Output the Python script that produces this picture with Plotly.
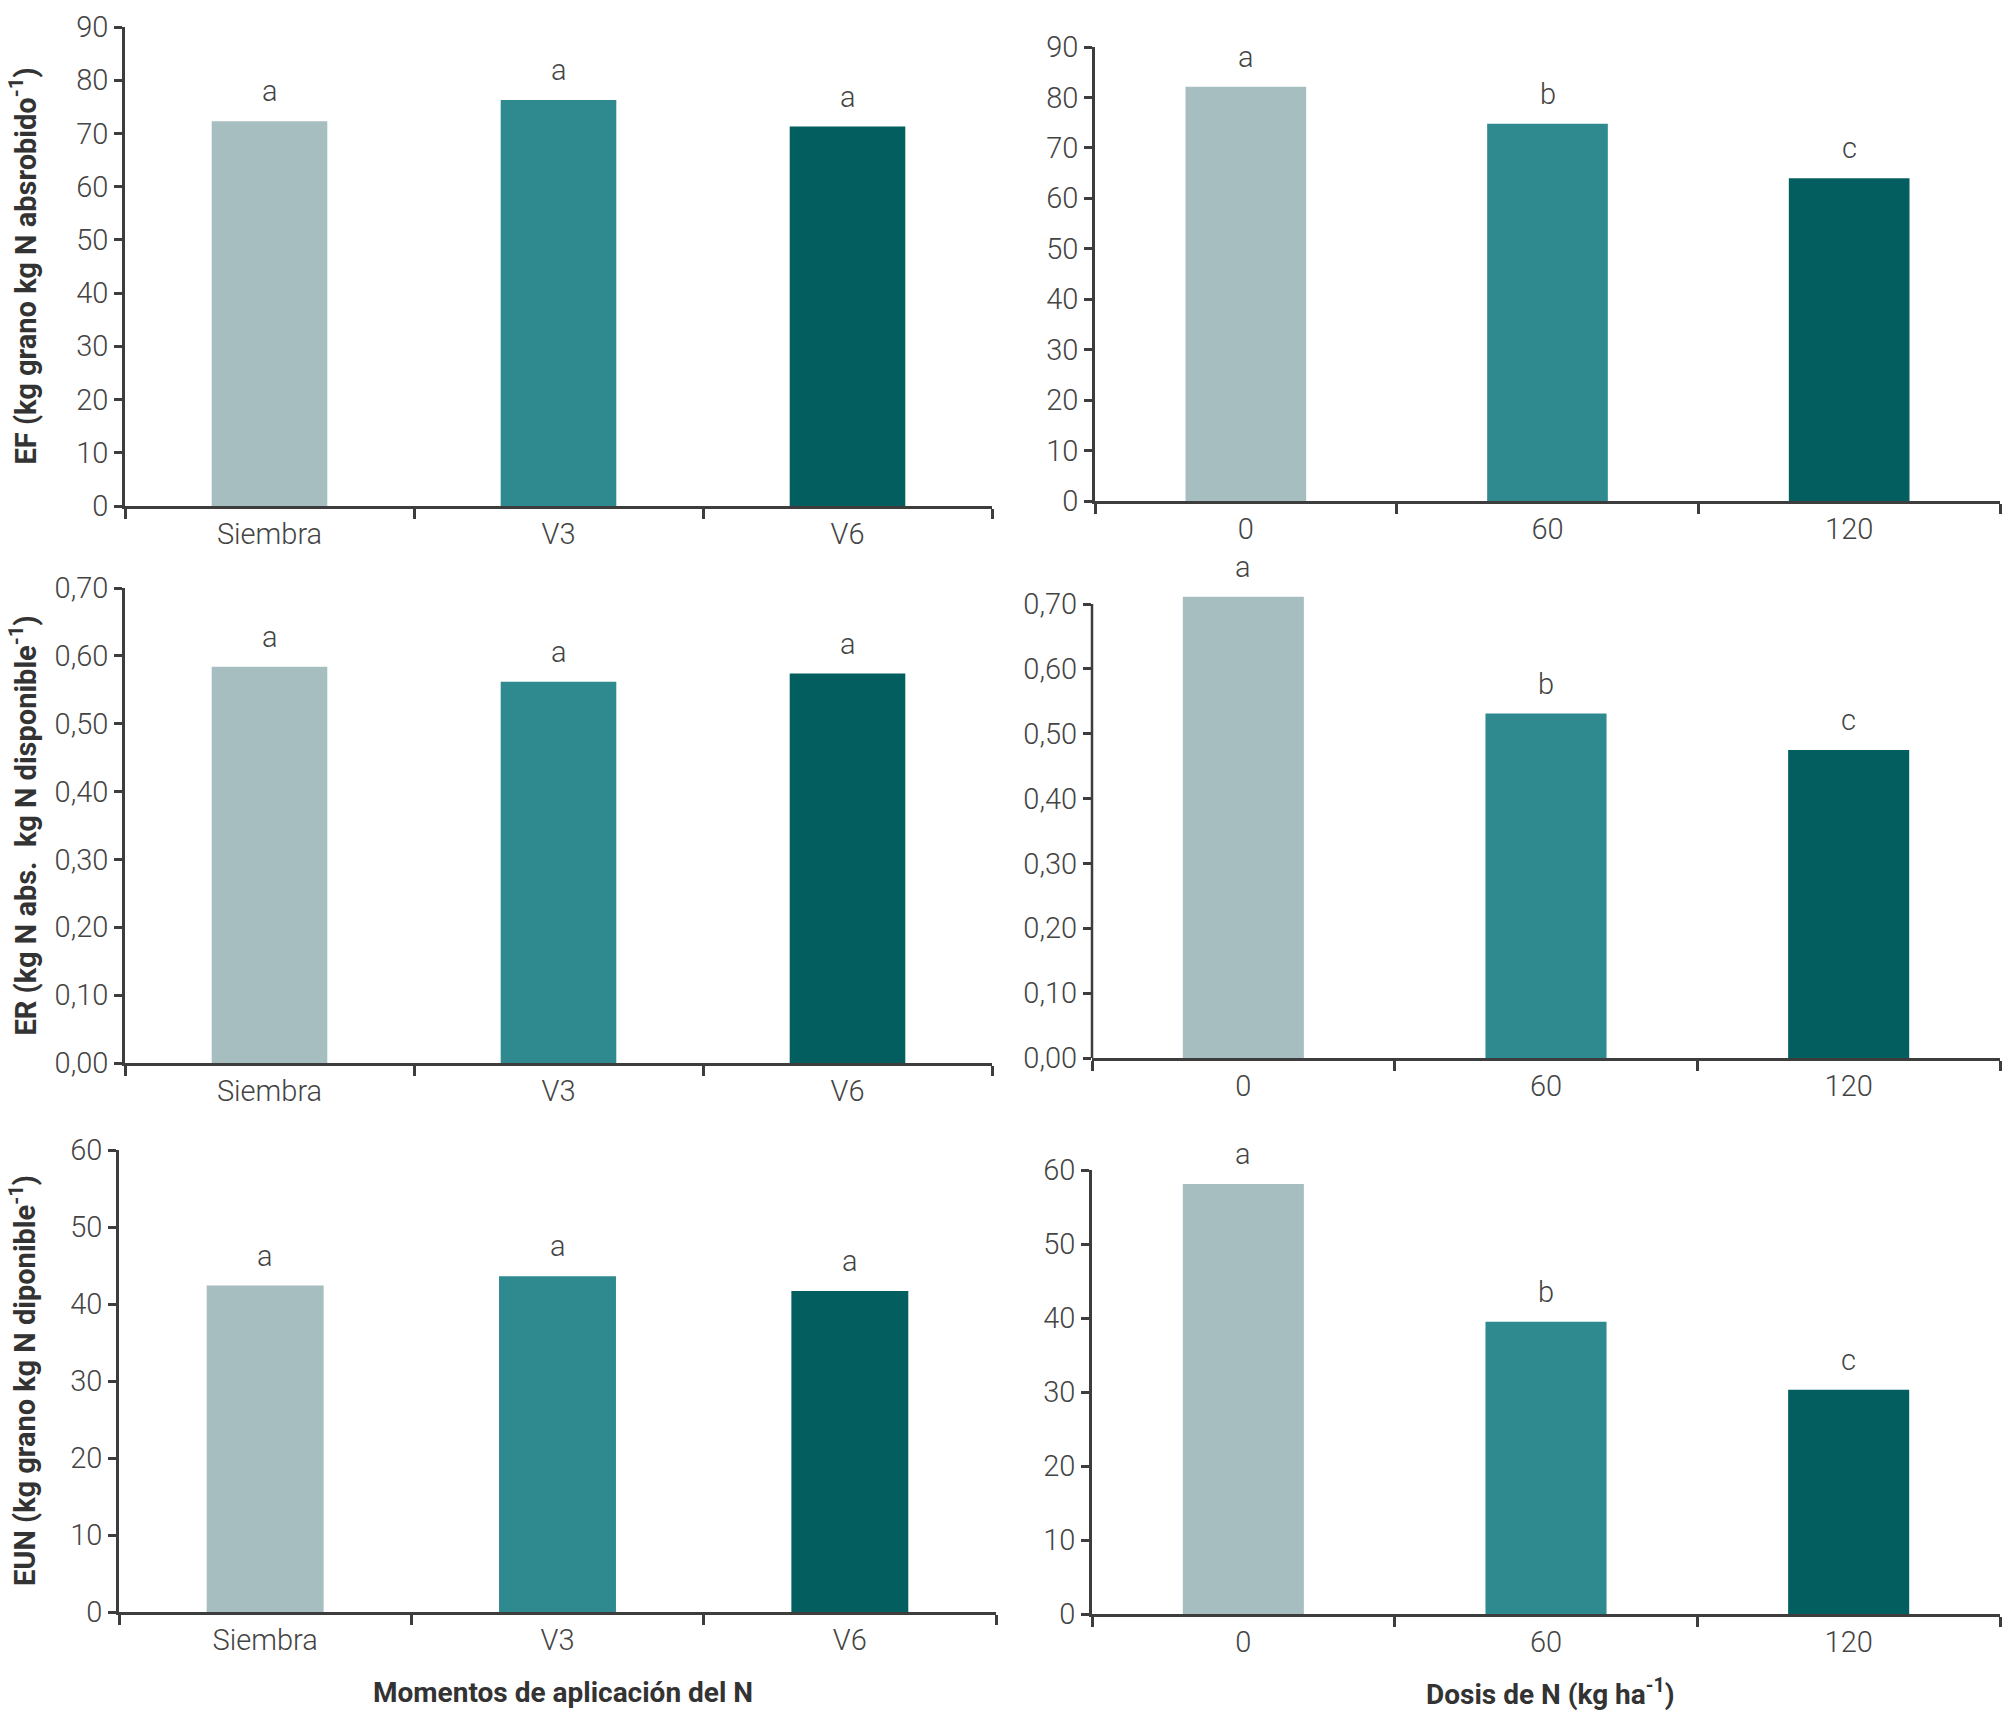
import plotly.graph_objects as go

# ---------------- data ----------------
momentos = ["Siembra", "V3", "V6"]
dosis = ["0", "60", "120"]

ef_momentos = [72.3, 76.3, 71.3]
ef_dosis = [82.1, 74.8, 64.0]
er_momentos = [0.584, 0.562, 0.574]
er_dosis = [0.711, 0.531, 0.475]
eun_momentos = [42.4, 43.6, 41.7]
eun_dosis = [58.1, 39.5, 30.3]

ef_momentos_letters = ["a", "a", "a"]
ef_dosis_letters = ["a", "b", "c"]
er_momentos_letters = ["a", "a", "a"]
er_dosis_letters = ["a", "b", "c"]
eun_momentos_letters = ["a", "a", "a"]
eun_dosis_letters = ["a", "b", "c"]

ef_ticks = [0, 10, 20, 30, 40, 50, 60, 70, 80, 90]
er_ticks = [0.0, 0.1, 0.2, 0.3, 0.4, 0.5, 0.6, 0.7]
eun_ticks = [0, 10, 20, 30, 40, 50, 60]

y_titles = [
    "EF (kg grano kg N absrobido<sup>-1</sup>)",
    "ER (kg N abs.  kg N disponible<sup>-1</sup>)",
    "EUN (kg grano kg N diponible<sup>-1</sup>)",
]
x_titles = ["Momentos de aplicación del N", "Dosis de N (kg ha<sup>-1</sup>)"]

bar_colors = ["#a6bebf", "#2e8a8f", "#035e60"]

# ---------------- layout geometry (pixels) ----------------
W, H = 2008, 1718
panels = [
    # (categories, values, letters, ticks, tickformat, x0, x1, ytop(last tick), ybot(0))
    (momentos, ef_momentos, ef_momentos_letters, ef_ticks, "d", 125, 992, 27, 506),
    (dosis, ef_dosis, ef_dosis_letters, ef_ticks, "d", 1095, 2000, 47, 501),
    (momentos, er_momentos, er_momentos_letters, er_ticks, ".2f", 125, 992, 588, 1063),
    (dosis, er_dosis, er_dosis_letters, er_ticks, ".2f", 1092, 2000, 604, 1058),
    (momentos, eun_momentos, eun_momentos_letters, eun_ticks, "d", 119, 996, 1150, 1612),
    (dosis, eun_dosis, eun_dosis_letters, eun_ticks, "d", 1092, 2000, 1170, 1614),
]

axis_color = "#3d3d3d"
FS = 29
tick_font = dict(family="Roboto", size=FS, color="#444444", weight=300)
title_font = dict(family="Roboto", size=29, color="#333333", weight="bold")

fig = go.Figure()
annotations = []
shapes = []
layout_axes = {}

for i, (cats, vals, letters, ticks, fmt, x0, x1, yt, yb) in enumerate(panels):
    n = i + 1
    xa = "x" if n == 1 else f"x{n}"
    ya = "y" if n == 1 else f"y{n}"
    fig.add_trace(go.Bar(
        x=cats, y=vals, xaxis=xa, yaxis=ya,
        marker=dict(color=bar_colors, line=dict(width=0)),
        width=0.4, cliponaxis=False, showlegend=False, hoverinfo="x+y",
    ))
    for j, (v, l) in enumerate(zip(vals, letters)):
        annotations.append(dict(
            x=j, y=v, xref=xa, yref=ya, text=l, showarrow=False,
            yanchor="middle", yshift=30,
            font=dict(family="Roboto", size=FS, color="#444444", weight=300),
        ))
    tick_top = ticks[-1]
    data_top = max(tick_top, max(vals) * 1.01)
    px_per_unit = (yb - yt) / (tick_top - ticks[0])
    yt_dom = yb - (data_top - ticks[0]) * px_per_unit
    extended = data_top > tick_top
    layout_axes["xaxis" if n == 1 else f"xaxis{n}"] = dict(
        domain=[x0 / W, x1 / W], anchor=ya, type="category",
        categoryorder="array", categoryarray=cats, automargin=False,
        range=[-0.5, 2.5], showline=True, linecolor=axis_color, linewidth=2.5,
        ticks="outside", tickson="boundaries", ticklen=10, tickwidth=2.5, tickcolor=axis_color,
        tickfont=tick_font, showgrid=False, zeroline=False, fixedrange=True,
    )
    layout_axes["yaxis" if n == 1 else f"yaxis{n}"] = dict(
        domain=[1 - yb / H, 1 - yt_dom / H], anchor=xa, automargin=False,
        range=[ticks[0], data_top], tickvals=ticks, tickformat=fmt,
        showline=not extended, linecolor=axis_color, linewidth=2.5,
        ticks="outside", ticklen=8, tickwidth=2.5, tickcolor=axis_color,
        tickfont=tick_font, showgrid=False, zeroline=False, fixedrange=True,
    )
    if extended:
        shapes.append(dict(
            type="line", xref=f"{xa} domain", yref=ya, x0=0, x1=0,
            y0=ticks[0], y1=tick_top, line=dict(color=axis_color, width=2.5),
        ))

# y-axis titles (left column only)
for t, (yt, yb) in zip(y_titles, [(27, 506), (588, 1063), (1150, 1612)]):
    annotations.append(dict(
        x=23 / W, y=1 - ((yt + yb) / 2) / H, xref="paper", yref="paper",
        text=t, textangle=-90, showarrow=False, xanchor="center", yanchor="middle",
        font=title_font,
    ))

# bottom x titles
for t, xc in zip(x_titles, [563, 1550]):
    annotations.append(dict(
        x=xc / W, y=1 - 1692 / H, xref="paper", yref="paper",
        text=t, showarrow=False, xanchor="center", yanchor="middle",
        font=dict(family="Roboto", size=28, color="#333333", weight="bold"),
    ))

fig.update_layout(
    width=W, height=H, autosize=False,
    margin=dict(l=0, r=0, t=0, b=0, pad=0, autoexpand=False),
    paper_bgcolor="white", plot_bgcolor="white",
    separators=",.", bargap=0.6,
    annotations=annotations, shapes=shapes, **layout_axes,
)

fig.write_html(
    "out.html",
    config={"displayModeBar": False, "responsive": False},
    post_script="document.body.style.margin='0';document.body.style.overflow='hidden';",
)
